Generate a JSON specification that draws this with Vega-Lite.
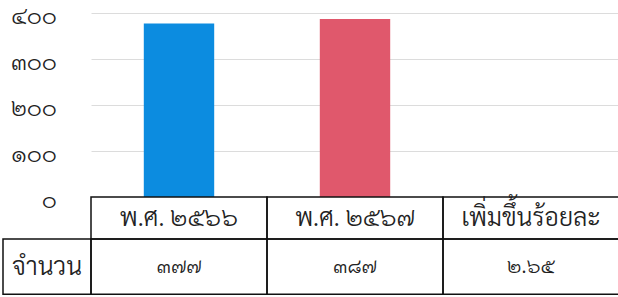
{
  "$schema": "https://vega.github.io/schema/vega-lite/v6.json",
  "padding": {"left": 2, "top": 0, "right": 0, "bottom": 0},
  "spacing": 0,
  "bounds": "flush",
  "config": {"view": {"stroke": null}, "font": "Laksaman, 'TH Sarabun New', Sarabun, Garuda, Loma, 'Noto Sans Thai', sans-serif", "concat": {"spacing": 0}},
  "datasets": {
    "rows": [
      {"col": "พ.ศ. ๒๕๖๖", "value": 377, "label": "๓๗๗"},
      {"col": "พ.ศ. ๒๕๖๗", "value": 387, "label": "๓๘๗"},
      {"col": "เพิ่มขึ้นร้อยละ", "value": null, "label": "๒.๖๕"}
    ],
    "ticks": [
      {"v": 0, "t": "๐"},
      {"v": 100, "t": "๑๐๐"},
      {"v": 200, "t": "๒๐๐"},
      {"v": 300, "t": "๓๐๐"},
      {"v": 400, "t": "๔๐๐"}
    ],
    "rowhead": [{"name": "จำนวน"}]
  },
  "hconcat": [
    {
      "width": 88,
      "height": 297,
      "layer": [
        {
          "data": {"name": "ticks"},
          "mark": {"type": "text", "align": "right", "baseline": "middle", "dx": 10, "dy": 4, "fontSize": 23, "fontWeight": 300, "color": "#222"},
          "encoding": {
            "y": {"field": "v", "type": "quantitative", "scale": {"domain": [-217, 428], "nice": false, "zero": false}, "axis": null},
            "text": {"field": "t"}
          }
        },
        {
          "data": {"name": "rowhead"},
          "mark": {"type": "rect", "fill": "white", "stroke": "#111", "strokeWidth": 1.5},
          "encoding": {
            "x": {"field": "name", "type": "nominal", "scale": {"paddingInner": 0, "paddingOuter": 0}, "axis": null},
            "y": {"datum": -91, "type": "quantitative"},
            "y2": {"datum": -211}
          }
        },
        {
          "data": {"name": "rowhead"},
          "mark": {"type": "text", "align": "center", "baseline": "middle", "fontSize": 25, "fontWeight": 300, "color": "#222"},
          "encoding": {
            "x": {"field": "name", "type": "nominal", "axis": null},
            "y": {"datum": -151, "type": "quantitative"},
            "text": {"field": "name"}
          }
        }
      ]
    },
    {
      "width": 528,
      "height": 297,
      "data": {"name": "rows"},
      "encoding": {
        "x": {"field": "col", "type": "nominal", "sort": null, "scale": {"domain": ["พ.ศ. ๒๕๖๖", "พ.ศ. ๒๕๖๗", "เพิ่มขึ้นร้อยละ"], "paddingInner": 0, "paddingOuter": 0}, "axis": null}
      },
      "layer": [
        {
          "transform": [{"filter": "datum.value != null"}],
          "mark": {"type": "bar", "width": {"band": 0.4}},
          "encoding": {
            "y": {"field": "value", "type": "quantitative", "scale": {"domain": [-217, 428], "nice": false, "zero": false},
              "axis": {"values": [100, 200, 300, 400], "labels": false, "ticks": false, "domain": false, "title": null, "grid": true, "gridColor": "#dcdcdc", "gridWidth": 1}},
            "y2": {"datum": 0},
            "color": {"field": "col", "type": "nominal", "scale": {"domain": ["พ.ศ. ๒๕๖๖", "พ.ศ. ๒๕๖๗"], "range": ["#0c8ce0", "#e0586c"]}, "legend": null}
          }
        },
        {
          "mark": {"type": "rect", "fill": "white", "fillOpacity": 0, "stroke": "#111", "strokeWidth": 1.5},
          "encoding": {"y": {"datum": 0, "type": "quantitative"}, "y2": {"datum": -91}}
        },
        {
          "mark": {"type": "rect", "fill": "white", "fillOpacity": 0, "stroke": "#111", "strokeWidth": 1.5},
          "encoding": {"y": {"datum": -91, "type": "quantitative"}, "y2": {"datum": -211}}
        },
        {
          "mark": {"type": "text", "baseline": "middle", "fontSize": 25, "fontWeight": 300, "color": "#222"},
          "encoding": {"y": {"datum": -45, "type": "quantitative"}, "text": {"field": "col"}}
        },
        {
          "mark": {"type": "text", "baseline": "middle", "fontSize": 21, "fontWeight": 300, "color": "#222"},
          "encoding": {"y": {"datum": -151, "type": "quantitative"}, "text": {"field": "label"}}
        }
      ]
    }
  ]
}
